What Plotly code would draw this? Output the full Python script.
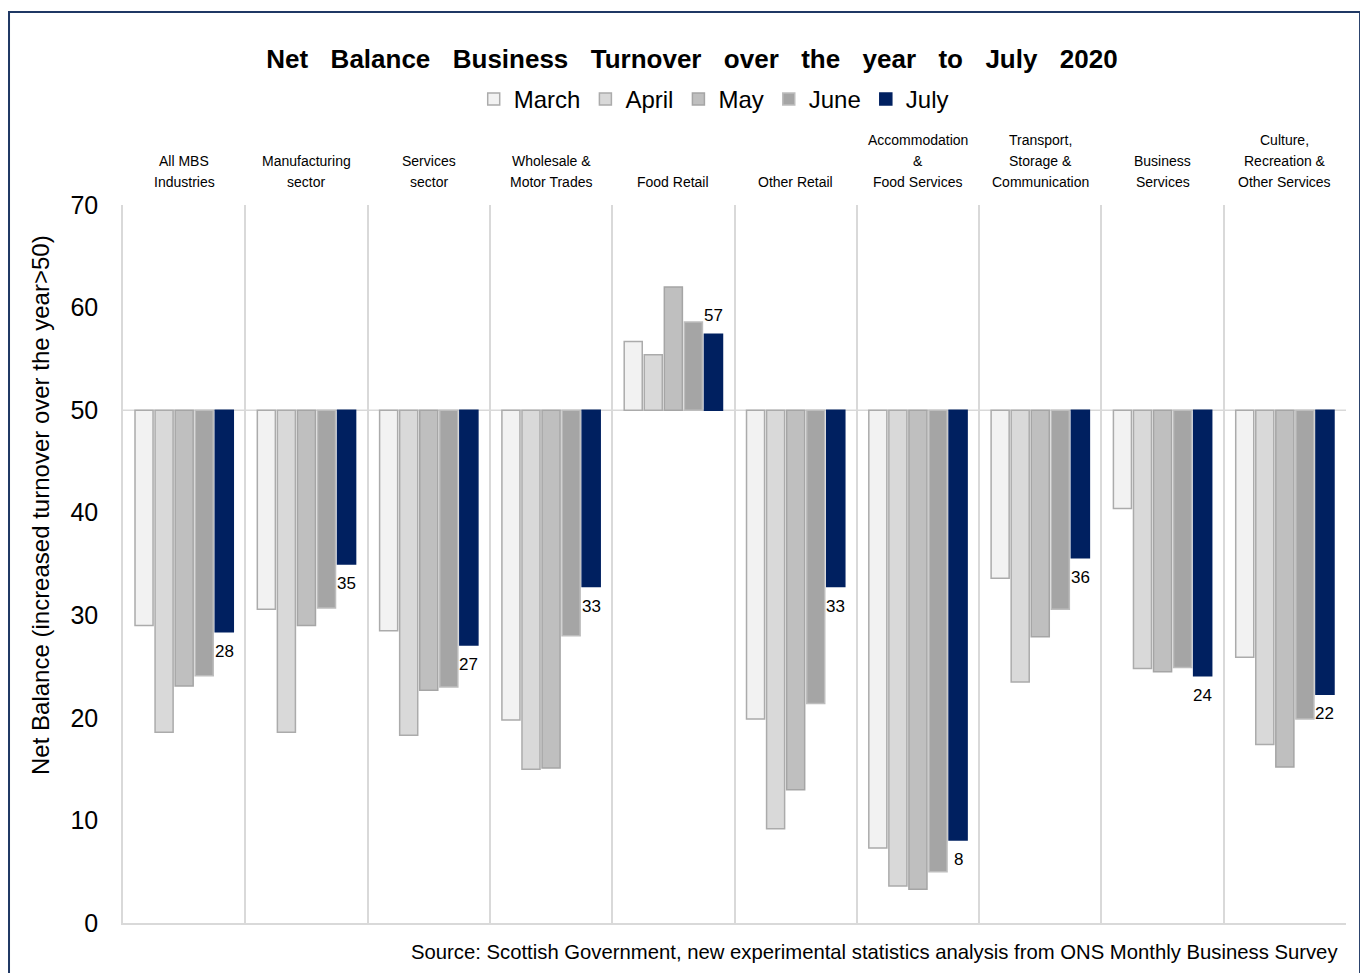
import plotly.graph_objects as go

categories = ["All MBS<br>Industries", "Manufacturing<br>sector", "Services<br>sector",
              "Wholesale &<br>Motor Trades", "Food Retail", "Other Retail",
              "Accommodation<br>&<br>Food Services", "Transport,<br>Storage &<br>Communication",
              "Business<br>Services", "Culture,<br>Recreation &<br>Other Services"]
cat_keys = ["All MBS", "Manufacturing", "Services", "Wholesale", "Food Retail", "Other Retail",
            "Accommodation", "Transport", "Business", "Culture"]

months = ["March", "April", "May", "June", "July"]
march = [29.0, 30.6, 28.5, 19.8, 56.7, 19.9, 7.3, 33.6, 40.4, 25.9]
april = [18.6, 18.6, 18.3, 15.0, 55.4, 9.2, 3.6, 23.5, 24.8, 17.4]
may = [23.1, 29.0, 22.7, 15.1, 62.0, 13.0, 3.3, 27.9, 24.5, 15.2]
june = [24.1, 30.7, 23.0, 28.0, 58.6, 21.4, 5.0, 30.6, 24.9, 19.9]
july = [28.4, 35.0, 27.1, 32.8, 57.4, 32.8, 8.1, 35.6, 24.1, 22.3]
series = [march, april, may, june, july]

baseline = 50
fills = ["#F2F2F2", "#D9D9D9", "#BFBFBF", "#A5A5A5", "#002060"]
outlines = ["#ABABAB", "#ABABAB", "#A5A5A5", "#BDBDBD", "#002060"]

FONT = "Arial, Liberation Sans, sans-serif"

# layout geometry
ML, MT, PW, PH = 115, 197, 1223, 718
W, H = 1368, 973
BARGAP, GROUPGAP = 0.18, 0.1

fig = go.Figure()
for name, vals, fc, lc in zip(months, series, fills, outlines):
    fig.add_trace(go.Bar(
        name=name, x=cat_keys, y=[v - baseline for v in vals], base=baseline,
        marker=dict(color=fc, line=dict(color=lc, width=1.5)),
        hovertemplate=name + ": %{customdata}<extra></extra>",
        customdata=vals,
    ))

annotations = []
# category header labels, one annotation per line for wider line spacing
for key, label in zip(cat_keys, categories):
    lines = label.split("<br>")
    for i, line in enumerate(reversed(lines)):
        annotations.append(dict(x=key, xref="x", y=1.0, yref="paper", yanchor="bottom",
                                yshift=13 + i * 21, text=line, showarrow=False,
                                font=dict(size=14, family=FONT, color="#000000")))

# July data labels
slot = PW / len(cat_keys) * (1 - BARGAP) / len(months)
july_shift = slot * 2
for key, v in zip(cat_keys, july):
    below = v < baseline
    annotations.append(dict(x=key, xref="x", y=v, yref="y",
                            yanchor="top" if below else "bottom",
                            yshift=-8 if below else 7, xshift=july_shift,
                            text=str(round(v)), showarrow=False,
                            font=dict(size=17, family=FONT, color="#000000")))

annotations.append(dict(x=1.0, xref="paper", xanchor="right", y=-0.022, yref="paper",
                        yanchor="top", showarrow=False, xshift=-6,
                        text="Source: Scottish Government, new experimental statistics analysis from ONS Monthly Business Survey",
                        font=dict(size=20.3, family=FONT, color="#000000")))
annotations.append(dict(x=-0.068, xref="paper", y=0.582, yref="paper", xanchor="center",
                        yanchor="middle", textangle=-90, showarrow=False,
                        text="Net Balance (increased turnover over the year>50)",
                        font=dict(size=24, family=FONT, color="#000000")))

shapes = [
    dict(type="line", xref="paper", yref="y", x0=0, x1=1, y0=baseline, y1=baseline,
         line=dict(color="#D9D9D9", width=1.5), layer="below"),
    dict(type="rect", xref="paper", yref="paper", x0=-0.0932, x1=1.0115, y0=-0.08, y1=1.2688,
         line=dict(color="#1F3864", width=2), fillcolor="rgba(0,0,0,0)", layer="above"),
]

title_text = "Net Balance Business Turnover over the year to July 2020".replace(" ", " \u2002\u200a")

fig.update_layout(
    width=W, height=H,
    paper_bgcolor="white", plot_bgcolor="white",
    margin=dict(l=ML, r=W - ML - PW, t=MT, b=H - MT - PH),
    font=dict(family=FONT, color="#000000"),
    title=dict(text="<b>" + title_text + "</b>",
               x=0.5, xanchor="center", y=0.948, yanchor="middle",
               font=dict(size=26, family=FONT, color="#000000")),
    legend=dict(orientation="h", x=0.483, xanchor="center", y=1.147, yanchor="middle",
                font=dict(size=24, family=FONT), itemclick=False, traceorder="normal",
                bgcolor="rgba(0,0,0,0)"),
    barmode="group", bargap=BARGAP, bargroupgap=GROUPGAP,
    annotations=annotations, shapes=shapes,
    showlegend=True,
)
fig.update_xaxes(type="category", showticklabels=False, tickson="boundaries",
                 showgrid=True, gridcolor="#D9D9D9", gridwidth=1.5,
                 showline=True, linecolor="#D9D9D9", linewidth=1.5, mirror=False,
                 ticks="", range=[-0.5, 9.5], fixedrange=True, automargin=False)
fig.update_yaxes(range=[0, 70], dtick=10, showgrid=False, zeroline=False,
                 showline=True, linecolor="#D9D9D9", linewidth=1.5,
                 ticks="", tickfont=dict(size=25, family=FONT),
                 ticklabelstandoff=18, fixedrange=True, automargin=False)

fig.write_html("out.html")
